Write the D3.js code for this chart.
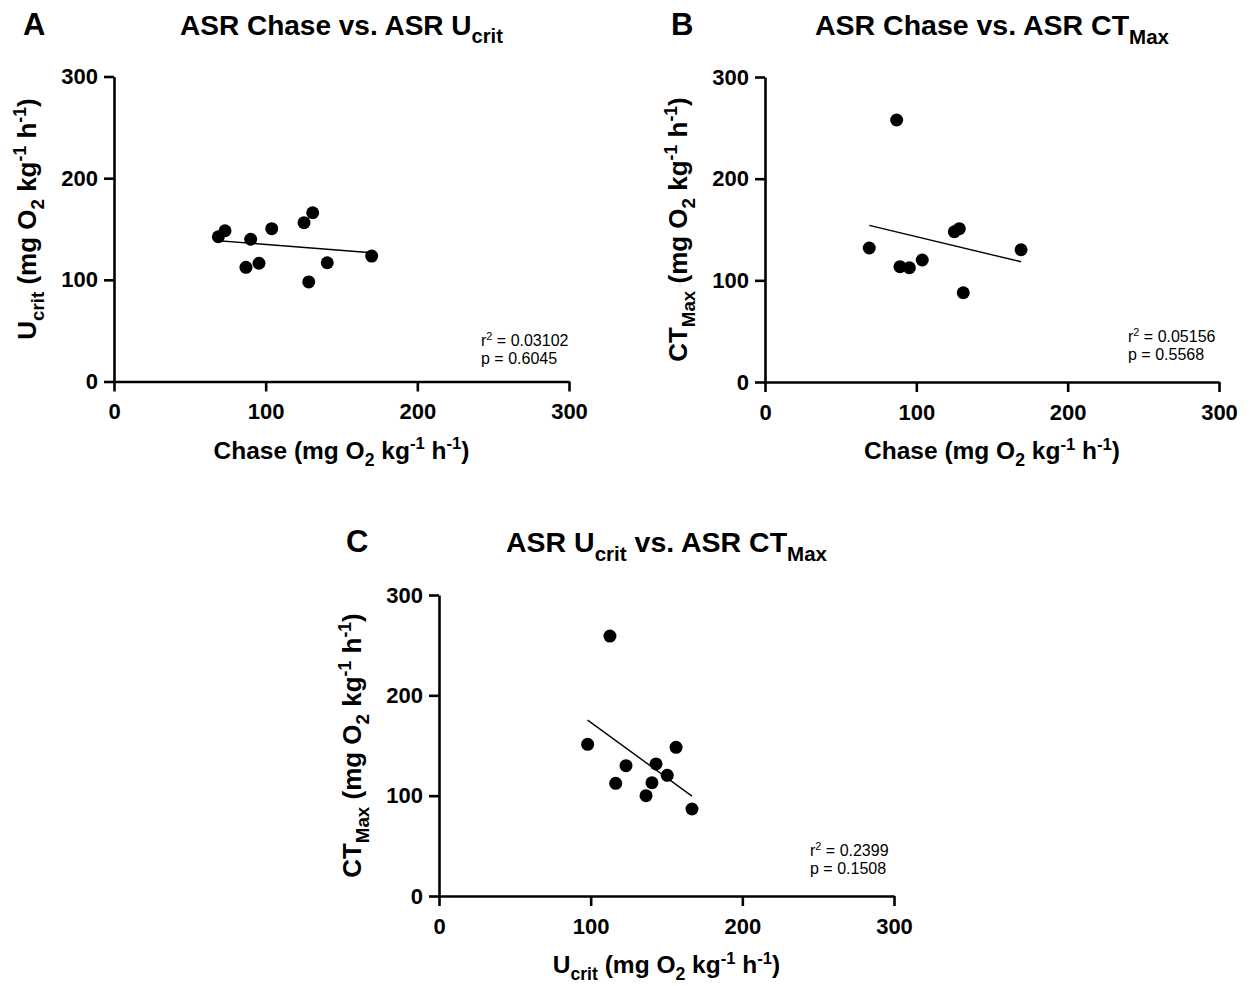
<!DOCTYPE html>
<html><head><meta charset="utf-8">
<script src="https://cdn.jsdelivr.net/npm/d3@7"></script>
<style>
body{margin:0;background:#fff}
svg{display:block}
text{font-family:"Liberation Sans",Arial,Helvetica,sans-serif;fill:#000}
</style>
</head><body>
<svg id="chart" width="1250" height="986"></svg>
<script>
// ---- Data ----
const chaseA = [68.8, 73.2, 90.1, 104.0, 87.0, 95.6, 125.3, 131.0, 128.4, 140.6, 169.9];
const ucritA = [142.4, 148.3, 139.9, 150.3, 112.3, 116.3, 156.2, 166.0, 97.9, 116.8, 123.4];

const chaseB = [87.0, 68.9, 125.1, 128.4, 169.2, 103.9, 89.2, 95.4, 131.0];
const ctmaxB = [257.7, 131.8, 147.8, 150.8, 130.1, 120.0, 113.4, 112.4, 87.8];

const ucritC = [112.7, 98.0, 156.3, 123.3, 143.1, 150.5, 116.5, 140.4, 136.5, 166.8];
const ctmaxC = [259.1, 151.2, 148.2, 129.9, 131.6, 120.3, 112.3, 112.9, 100.0, 86.7];

const tickValues = [0, 100, 200, 300];
const axisDomain = [0, 300];
const panelLetters = ["A", "B", "C"];
const r2Values = ["0.03102", "0.05156", "0.2399"];
const pValues = ["0.6045", "0.5568", "0.1508"];

const unitSeg = [{t:" (mg O"},{t:"2",s:"sub"},{t:" kg"},{t:"-1",s:"sup"},{t:" h"},{t:"-1",s:"sup"},{t:")"}];
const titlesSeg = [
  [{t:"ASR Chase vs. ASR U"},{t:"crit",s:"sub"}],
  [{t:"ASR Chase vs. ASR CT"},{t:"Max",s:"sub"}],
  [{t:"ASR U"},{t:"crit",s:"sub"},{t:" vs. ASR CT"},{t:"Max",s:"sub"}]
];
const xLabels = [
  [{t:"Chase"}].concat(unitSeg),
  [{t:"Chase"}].concat(unitSeg),
  [{t:"U"},{t:"crit",s:"sub"}].concat(unitSeg)
];
const yLabels = [
  [{t:"U"},{t:"crit",s:"sub"}].concat(unitSeg),
  [{t:"CT"},{t:"Max",s:"sub"}].concat(unitSeg),
  [{t:"CT"},{t:"Max",s:"sub"}].concat(unitSeg)
];

// ---- Layout ----
const panels = [
  {x: chaseA, y: ucritA, left:114, right:569, top:76.5, bottom:381.5, letterX:23, titleY:35, annX:481, annY:346, ylShift:-10, titleFs:28},
  {x: chaseB, y: ctmaxB, left:765, right:1219, top:77, bottom:382, letterX:671, titleY:35, annX:1128, annY:342, ylShift:0, titleFs:28.5},
  {x: ucritC, y: ctmaxC, left:439, right:894, top:595, bottom:896, letterX:346, titleY:552, annX:810, annY:856, ylShift:0, titleFs:28.5}
];

const svg = d3.select("#chart");

function rich(textSel, segs, fs) {
  let shift = 0;
  segs.forEach(sg => {
    const ts = textSel.append("tspan").text(sg.t);
    let target = 0;
    if (sg.s === "sub") { ts.attr("font-size", fs*0.72); target = fs*0.3; }
    else if (sg.s === "sup") { ts.attr("font-size", fs*0.68); target = -fs*0.38; }
    else { ts.attr("font-size", fs); }
    ts.attr("dy", target - shift);
    shift = target;
  });
}

function linreg(xs, ys) {
  const mx = d3.mean(xs), my = d3.mean(ys);
  let sxy = 0, sxx = 0;
  xs.forEach((x, i) => { sxy += (x-mx)*(ys[i]-my); sxx += (x-mx)*(x-mx); });
  const b = sxy/sxx;
  return {b, a: my - b*mx};
}

panels.forEach((p, i) => {
  const xs = d3.scaleLinear().domain(axisDomain).range([p.left, p.right]);
  const ys = d3.scaleLinear().domain(axisDomain).range([p.bottom, p.top]);
  const g = svg.append("g");

  // axes
  const xAxis = d3.axisBottom(xs).tickValues(tickValues).tickSize(10).tickSizeOuter(0).tickPadding(12);
  const yAxis = d3.axisLeft(ys).tickValues(tickValues).tickSize(10).tickSizeOuter(0).tickPadding(6);
  const gx = g.append("g").attr("transform", `translate(0,${p.bottom})`).call(xAxis);
  const gy = g.append("g").attr("transform", `translate(${p.left},0)`).call(yAxis);
  [gx, gy].forEach(a => {
    a.select(".domain").attr("stroke", "#000").attr("stroke-width", 2.6);
    a.selectAll(".tick line").attr("stroke", "#000").attr("stroke-width", 2.6);
    a.selectAll(".tick text").attr("font-size", 22).attr("font-weight", "bold")
      .attr("font-family", '"Liberation Sans",Arial,sans-serif').attr("fill", "#000");
  });

  // regression line
  const r = linreg(p.x, p.y);
  const x0 = d3.min(p.x), x1 = d3.max(p.x);
  g.append("line")
    .attr("x1", xs(x0)).attr("y1", ys(r.a + r.b*x0))
    .attr("x2", xs(x1)).attr("y2", ys(r.a + r.b*x1))
    .attr("stroke", "#000").attr("stroke-width", 1.4);

  // points
  g.selectAll("circle.pt").data(p.x.map((v, k) => [v, p.y[k]])).enter()
    .append("circle").attr("class", "pt")
    .attr("cx", d => xs(d[0])).attr("cy", d => ys(d[1])).attr("r", 6.5).attr("fill", "#000");

  const cx = (p.left + p.right)/2;
  const cy = (p.top + p.bottom)/2;

  // panel letter
  g.append("text").attr("x", p.letterX).attr("y", p.titleY)
    .attr("font-size", 31).attr("font-weight", "bold").text(panelLetters[i]);

  // title
  const t = g.append("text").attr("x", cx).attr("y", p.titleY)
    .attr("text-anchor", "middle").attr("font-weight", "bold");
  rich(t, titlesSeg[i], p.titleFs);

  // x label
  const xl = g.append("text").attr("x", cx).attr("y", p.bottom + 77)
    .attr("text-anchor", "middle").attr("font-weight", "bold");
  rich(xl, xLabels[i], 24.5);

  // y label
  const yl = g.append("text").attr("text-anchor", "middle").attr("font-weight", "bold")
    .attr("transform", `translate(${p.left - 78},${cy + p.ylShift}) rotate(-90)`);
  rich(yl, yLabels[i], 26);

  // stats annotation
  const a1 = g.append("text").attr("x", p.annX).attr("y", p.annY);
  rich(a1, [{t:"r"},{t:"2",s:"sup"},{t:" = " + r2Values[i]}], 16);
  g.append("text").attr("x", p.annX).attr("y", p.annY + 18).attr("font-size", 16)
    .text("p = " + pValues[i]);
});
</script>
</body></html>
